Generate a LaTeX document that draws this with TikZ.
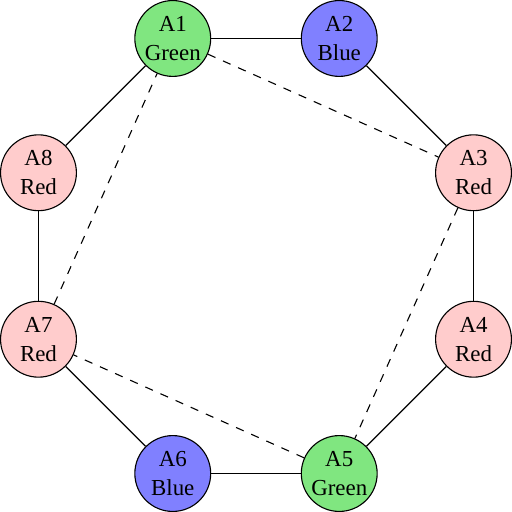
\documentclass[tikz,border=0pt]{standalone}
\usepackage{fontspec}
\setmainfont{Liberation Serif}
\usepackage{tikz}

\definecolor{nodegreen}{RGB}{128,230,128}
\definecolor{nodeblue}{RGB}{128,128,255}
\definecolor{nodered}{RGB}{255,204,204}

\begin{document}
\begin{tikzpicture}[
  every node/.style={circle, draw, minimum size=0.966cm, inner sep=0pt, align=center,
    font=\fontsize{8.3}{10.4}\selectfont},
  greennode/.style={fill=nodegreen},
  bluenode/.style={fill=nodeblue},
  rednode/.style={fill=nodered},
  conflict/.style={dashed}
]
\node[greennode] (a1) at (-1.06, 2.77)  {A1\\Green};
\node[bluenode]  (a2) at (1.06, 2.77)   {A2\\Blue};
\node[rednode]   (a3) at (2.77, 1.06)   {A3\\Red};
\node[rednode]   (a4) at (2.77, -1.06)  {A4\\Red};
\node[greennode] (a5) at (1.06, -2.77)  {A5\\Green};
\node[bluenode]  (a6) at (-1.06, -2.77) {A6\\Blue};
\node[rednode]   (a7) at (-2.77, -1.06) {A7\\Red};
\node[rednode]   (a8) at (-2.77, 1.06)  {A8\\Red};

% ring
\draw (a1) -- (a2);
\draw (a2) -- (a3);
\draw (a3) -- (a4);
\draw (a4) -- (a5);
\draw (a5) -- (a6);
\draw (a6) -- (a7);
\draw (a7) -- (a8);
\draw (a8) -- (a1);

% dashed links
\draw[conflict] (a1) -- (a3);
\draw[conflict] (a3) -- (a5);
\draw[conflict] (a5) -- (a7);
\draw[conflict] (a7) -- (a1);

\end{tikzpicture}
\end{document}
